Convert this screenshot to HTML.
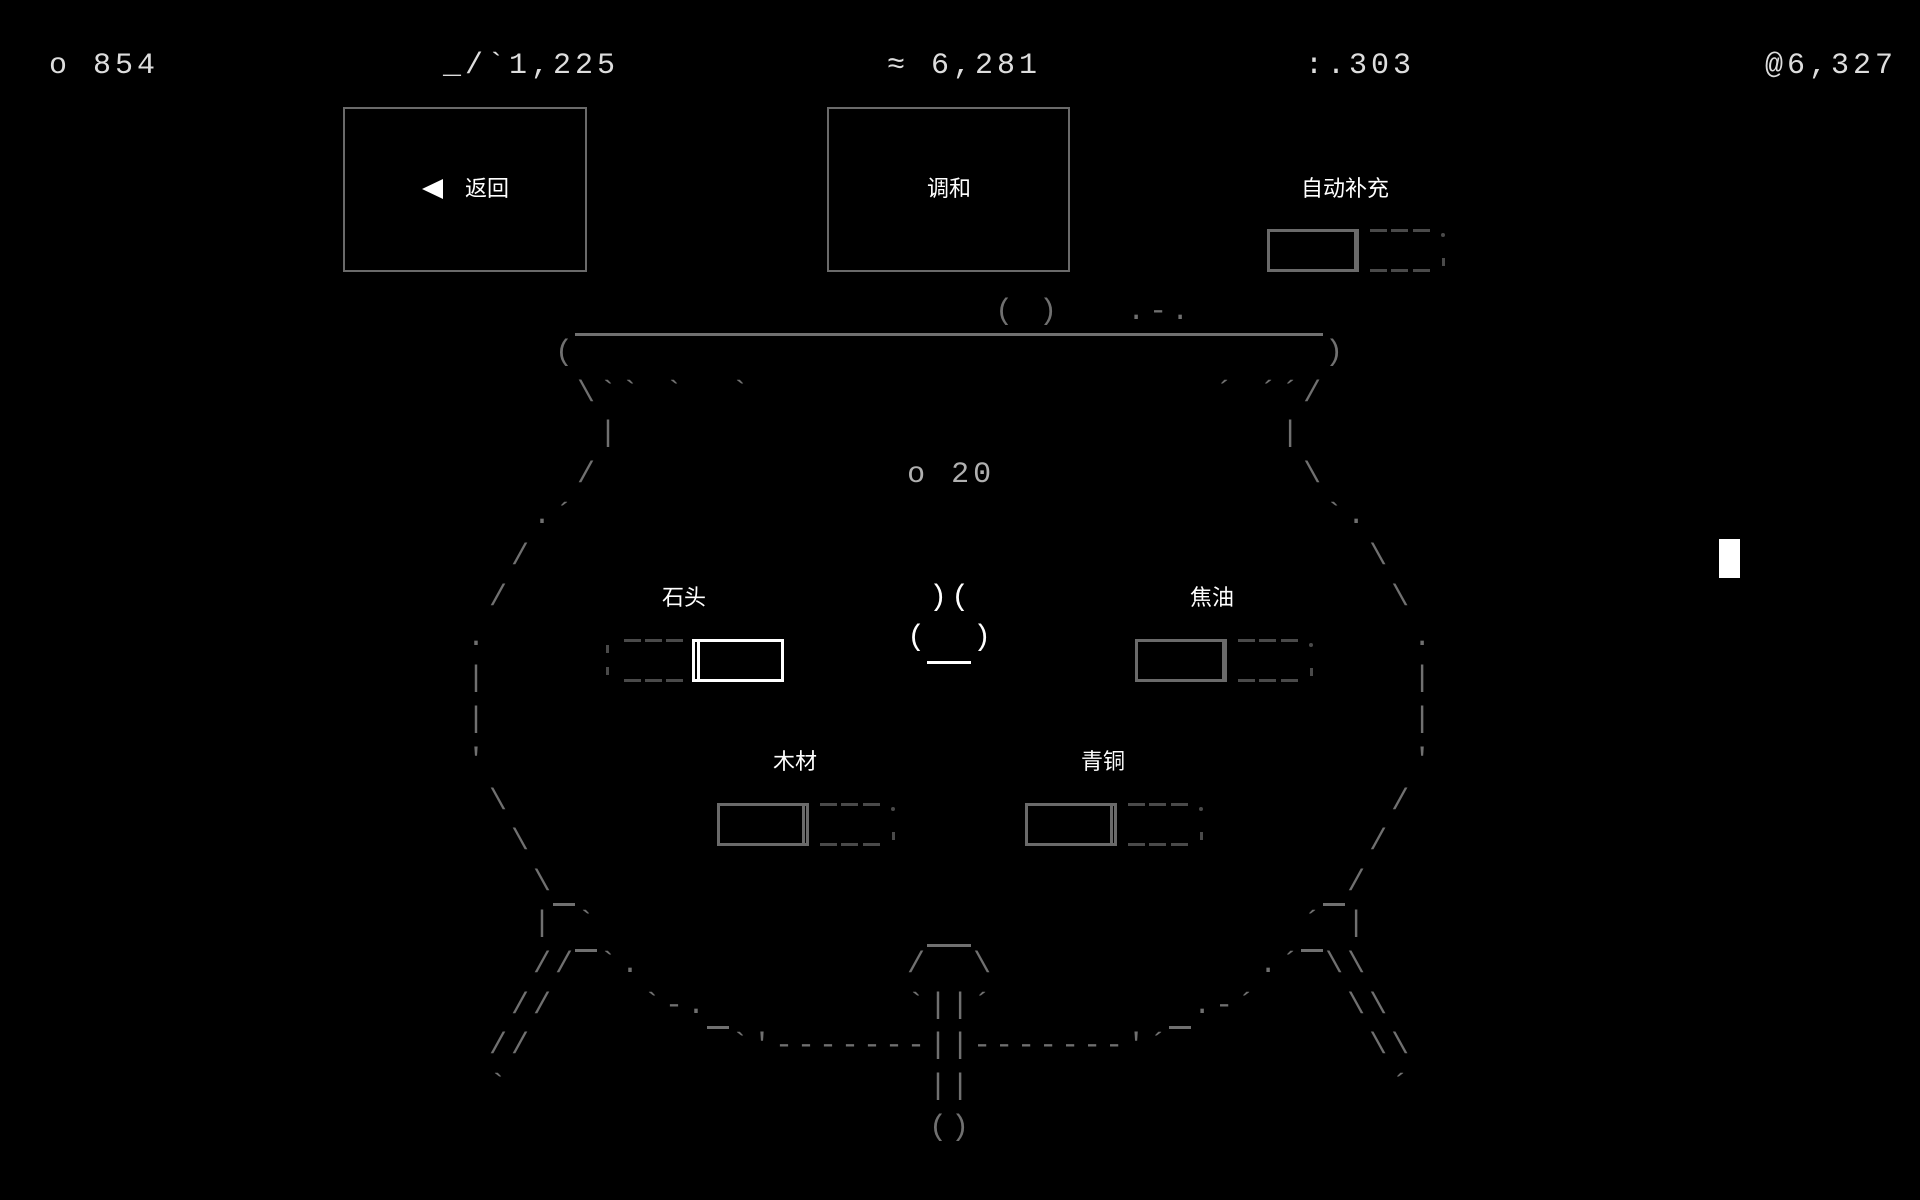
<!DOCTYPE html>
<html><head><meta charset="utf-8">
<style>
html,body{margin:0;padding:0;background:#000;width:1920px;height:1200px;overflow:hidden;position:relative}
.m{font-family:"Liberation Mono",monospace;font-size:30px;letter-spacing:4px;line-height:40.8px;white-space:pre;position:absolute;margin:0}
.cnt{color:#ddd;top:45.6px}
pre.art{left:467px;top:292px;color:#707070}
.w{color:#fff}
.o{color:#b0b0b0}
.u{position:absolute;height:3px;background:#707070}
.uw{position:absolute;height:3px;background:#fff}
.btn{position:absolute;border:2px solid #6a6a6a;box-sizing:border-box}
.cj{position:absolute;font-family:"Liberation Sans","Noto Sans CJK SC",sans-serif;font-size:22px;color:#fff;line-height:26px;transform:translate(-50%,-50%);white-space:nowrap}
.bx{position:absolute;width:92px;height:43px;border:3px solid #6a6a6a;box-sizing:border-box}
.ln{position:absolute;width:3px;height:43px;background:#6a6a6a}
.d{position:absolute;width:17px;height:3px;background:#4a4a4a}
.dot{position:absolute;width:4px;height:4px;border-radius:2px;background:#4a4a4a}
.tk{position:absolute;width:3px;height:8px;background:#4a4a4a}
</style></head><body>

<div class="m cnt" style="left:49px">o 854</div>
<div class="m cnt" style="left:443px">_/`1,225</div>
<div class="m cnt" style="left:887px">≈ 6,281</div>
<div class="m cnt" style="left:1305px">:.303</div>
<div class="m cnt" style="left:1765px">@6,327</div>

<div class="btn" style="left:343px;top:107px;width:244px;height:165px"></div>
<div style="position:absolute;left:422px;top:179px;width:0;height:0;border-top:10px solid transparent;border-bottom:10px solid transparent;border-right:21px solid #fff"></div>
<div class="cj" style="left:487px;top:189px">返回</div>
<div class="btn" style="left:827px;top:107px;width:243px;height:165px"></div>
<div class="cj" style="left:949px;top:189px">调和</div>

<div class="cj" style="left:1345px;top:189px">自动补充</div>
<div class="bx" style="left:1267px;top:229px"></div><div class="ln" style="left:1354px;top:229px"></div>
<div class="d" style="left:1370px;top:229px"></div><div class="d" style="left:1391px;top:229px"></div><div class="d" style="left:1413px;top:229px"></div>
<div class="d" style="left:1370px;top:269px"></div><div class="d" style="left:1391px;top:269px"></div><div class="d" style="left:1413px;top:269px"></div>
<div class="dot" style="left:1441px;top:233px"></div><div class="tk" style="left:1442px;top:258px"></div>

<pre class="m art">                        ( )   .-.
    (                                  )
     \``&nbsp;`  `                     ´ ´´/
      |                              |
     /              <span class="o">o 20</span>              \
   .´                                  `.
  /                                      \
 /                   <span class="w">)(</span>                   \
.                   <span class="w">(  )</span>                   .
|                                          |
|                                          |
'                                          '
 \                                        /
  \                                      /
   \                                    /
   | `                                ´ |
   // `.            /  \            .´ \\
  //    `-.         `||´         .-´    \\
 //         `'-------||-------'´         \\
 `                   ||                   ´
                     ()</pre>

<div class="u" style="left:575px;top:333px;width:748px"></div>
<div class="u" style="left:553px;top:903px;width:22px"></div>
<div class="u" style="left:1323px;top:903px;width:22px"></div>
<div class="u" style="left:575px;top:949px;width:22px"></div>
<div class="u" style="left:1301px;top:949px;width:22px"></div>
<div class="u" style="left:927px;top:944px;width:44px"></div>
<div class="u" style="left:707px;top:1026px;width:22px"></div>
<div class="u" style="left:1169px;top:1026px;width:22px"></div>
<div class="uw" style="left:927px;top:661px;width:44px"></div>

<div class="cj" style="left:684px;top:598px">石头</div>
<div class="bx" style="left:692px;top:639px;border-color:#fff"></div><div class="ln" style="left:697px;top:639px;background:#fff"></div>
<div class="d" style="left:624px;top:639px"></div><div class="d" style="left:645px;top:639px"></div><div class="d" style="left:666px;top:639px"></div>
<div class="d" style="left:624px;top:679px"></div><div class="d" style="left:645px;top:679px"></div><div class="d" style="left:666px;top:679px"></div>
<div class="tk" style="left:606px;top:645px"></div><div class="tk" style="left:606px;top:667px"></div>

<div class="cj" style="left:1212px;top:598px">焦油</div>
<div class="bx" style="left:1135px;top:639px"></div><div class="ln" style="left:1222px;top:639px"></div>
<div class="d" style="left:1238px;top:639px"></div><div class="d" style="left:1259px;top:639px"></div><div class="d" style="left:1281px;top:639px"></div>
<div class="d" style="left:1238px;top:679px"></div><div class="d" style="left:1259px;top:679px"></div><div class="d" style="left:1281px;top:679px"></div>
<div class="dot" style="left:1309px;top:643px"></div><div class="tk" style="left:1310px;top:668px"></div>

<div class="cj" style="left:795px;top:762px">木材</div>
<div class="bx" style="left:717px;top:803px"></div><div class="ln" style="left:802px;top:803px"></div>
<div class="d" style="left:820px;top:803px"></div><div class="d" style="left:841px;top:803px"></div><div class="d" style="left:863px;top:803px"></div>
<div class="d" style="left:820px;top:843px"></div><div class="d" style="left:841px;top:843px"></div><div class="d" style="left:863px;top:843px"></div>
<div class="dot" style="left:891px;top:807px"></div><div class="tk" style="left:892px;top:832px"></div>

<div class="cj" style="left:1103px;top:762px">青铜</div>
<div class="bx" style="left:1025px;top:803px"></div><div class="ln" style="left:1110px;top:803px"></div>
<div class="d" style="left:1128px;top:803px"></div><div class="d" style="left:1149px;top:803px"></div><div class="d" style="left:1171px;top:803px"></div>
<div class="d" style="left:1128px;top:843px"></div><div class="d" style="left:1149px;top:843px"></div><div class="d" style="left:1171px;top:843px"></div>
<div class="dot" style="left:1199px;top:807px"></div><div class="tk" style="left:1200px;top:832px"></div>

<div style="position:absolute;left:1719px;top:539px;width:21px;height:39px;background:#fff"></div>
</body></html>
